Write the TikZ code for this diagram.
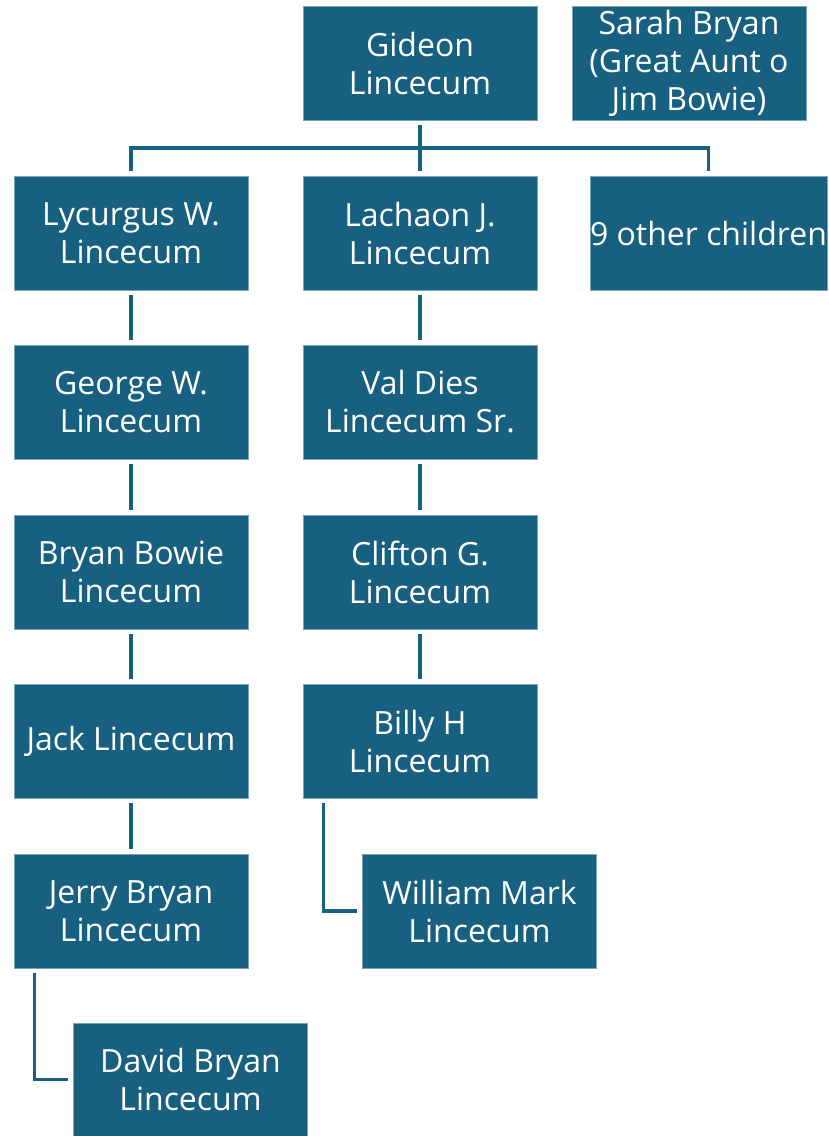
\documentclass[tikz,border=0pt]{standalone}
\usepackage{fontspec}
\setmainfont{Open Sans}
\definecolor{boxc}{RGB}{24,96,128}
\definecolor{edgec}{RGB}{120,165,188}
\begin{document}
\begin{tikzpicture}[x=1pt,y=-1pt,
  person/.style={rectangle,fill=boxc,draw=edgec,line width=0.8pt,minimum width=234pt,minimum height=114pt,
    inner sep=0pt,text=white,align=center,font=\fontsize{32}{38}\selectfont},
  link/.style={draw=boxc,line width=3.6pt}]
\useasboundingbox (0,0) rectangle (829,1136);
\node[person] (gideon) at (420,63) {Gideon\\Lincecum};
\node[person] (sarah) at (689,63) {Sarah Bryan\\(Great Aunt o\\Jim Bowie)};
\node[person] (lyc) at (131,233) {Lycurgus W.\\Lincecum};
\node[person] (lach) at (420,233) {Lachaon J.\\Lincecum};
\node[person] (nine) at (708.5,233) {9 other children};
\node[person] (george) at (131,402) {George W.\\Lincecum};
\node[person] (val) at (420,402) {Val Dies\\Lincecum Sr.};
\node[person] (bryan) at (131,572) {Bryan Bowie\\Lincecum};
\node[person] (clifton) at (420,572) {Clifton G.\\Lincecum};
\node[person] (jack) at (131,741) {Jack Lincecum};
\node[person] (billy) at (420,741) {Billy H\\Lincecum};
\node[person] (jerry) at (131,911) {Jerry Bryan\\Lincecum};
\node[person] (william) at (479.5,911) {William Mark\\Lincecum};
\node[person,minimum height=113pt] (david) at (190.5,1079.5) {David Bryan\\Lincecum};
\coordinate (bus) at (420,148);
\draw[link] ([yshift=-5pt]gideon.south) -- ([yshift=5pt]lach.north);
\draw[link] ([yshift=5pt]lyc.north) |- (bus) -| ([yshift=5pt]nine.north);
\draw[link] ([yshift=-5pt]lyc.south) -- ([yshift=5pt]george.north);
\draw[link] ([yshift=-5pt]george.south) -- ([yshift=5pt]bryan.north);
\draw[link] ([yshift=-5pt]bryan.south) -- ([yshift=5pt]jack.north);
\draw[link] ([yshift=-5pt]jack.south) -- ([yshift=5pt]jerry.north);
\draw[link] ([yshift=-5pt]lach.south) -- ([yshift=5pt]val.north);
\draw[link] ([yshift=-5pt]val.south) -- ([yshift=5pt]clifton.north);
\draw[link] ([yshift=-5pt]clifton.south) -- ([yshift=5pt]billy.north);
\draw[link] ([xshift=21pt,yshift=-5pt]billy.south west) |- ([xshift=-5pt]william.west);
\draw[link] ([xshift=21pt,yshift=-5pt]jerry.south west) |- ([xshift=-5pt]david.west);
\end{tikzpicture}
\end{document}
